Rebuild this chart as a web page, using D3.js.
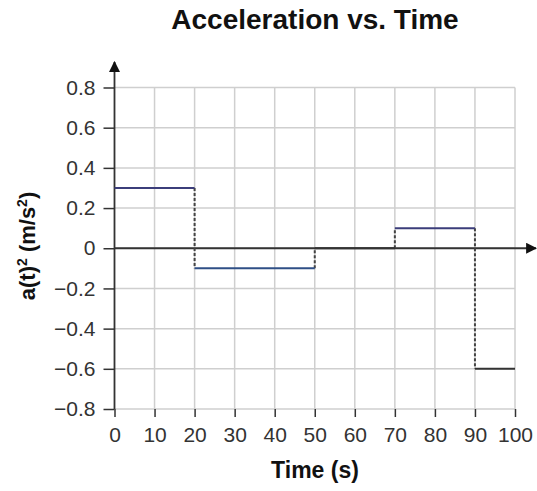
<!DOCTYPE html>
<html>
<head>
<meta charset="utf-8">
<style>
body { margin: 0; background: #fff; }
svg { display: block; font-family: "Liberation Sans", Arial, sans-serif; }
.grid line { stroke: #cfcfcf; stroke-width: 1.5; }
.tick text { fill: #333; }
</style>
</head>
<body>
<svg width="537" height="491"></svg>
<script src="https://d3js.org/d3.v7.min.js"></script>
<script>

// step boundaries (s) and acceleration on each step (m/s^2)
var stepStart = [0, 20, 50, 70, 90];
var stepEnd = [20, 50, 70, 90, 100];
var accel = [0.3, -0.1, 0, 0.1, -0.6];
var segColor = ["#3b3d7a", "#2f4f86", "#333333", "#3b3d7a", "#333333"];

var xTicks = [0, 10, 20, 30, 40, 50, 60, 70, 80, 90, 100];
var yTicks = [-0.8, -0.6, -0.4, -0.2, 0, 0.2, 0.4, 0.6, 0.8];

var svg = d3.select("svg");

var x = d3.scaleLinear().domain([0, 100]).range([114.5, 515]);
var y = d3.scaleLinear().domain([-0.8, 0.8]).range([409, 87.5]);

var fmtY = function(d) { return d === 0 ? "0" : d3.format(".1f")(d); };

// grid
var grid = svg.append("g").attr("class", "grid");
grid.selectAll(".v").data(xTicks.slice(1)).enter().append("line")
    .attr("x1", x).attr("x2", x)
    .attr("y1", y(0.8)).attr("y2", y(-0.8));
grid.selectAll(".h").data(yTicks).enter().append("line")
    .attr("x1", x(0)).attr("x2", x(100))
    .attr("y1", y).attr("y2", y);

// axes (ticks + labels)
var xAxis = svg.append("g")
    .attr("transform", "translate(0," + y(-0.8) + ")")
    .call(d3.axisBottom(x).tickValues(xTicks).tickSize(8).tickPadding(10).tickFormat(d3.format("d")));
xAxis.select(".domain").remove();
xAxis.selectAll(".tick line").attr("stroke", "#333").attr("stroke-width", 1.5);
xAxis.selectAll(".tick text").style("font-size", "21px");

var yAxis = svg.append("g")
    .attr("transform", "translate(" + x(0) + ",0)")
    .call(d3.axisLeft(y).tickValues(yTicks).tickSize(11).tickPadding(8).tickFormat(fmtY));
yAxis.select(".domain").remove();
yAxis.selectAll(".tick line").attr("stroke", "#333").attr("stroke-width", 1.5);
yAxis.selectAll(".tick text").style("font-size", "21px");

// arrow marker
svg.append("defs").append("marker")
    .attr("id", "arrow")
    .attr("viewBox", "0 0 10 10")
    .attr("refX", 9).attr("refY", 5)
    .attr("markerWidth", 11).attr("markerHeight", 11)
    .attr("markerUnits", "userSpaceOnUse")
    .attr("orient", "auto")
  .append("path")
    .attr("d", "M0,0L10,5L0,10Z")
    .attr("fill", "#111");

// main axis lines
svg.append("line")
    .attr("x1", x(0)).attr("x2", 536)
    .attr("y1", y(0)).attr("y2", y(0))
    .attr("stroke", "#333").attr("stroke-width", 1.8)
    .attr("marker-end", "url(#arrow)");
svg.append("line")
    .attr("x1", x(0)).attr("x2", x(0))
    .attr("y1", y(-0.8)).attr("y2", 62)
    .attr("stroke", "#333").attr("stroke-width", 1.8)
    .attr("marker-end", "url(#arrow)");

// dashed connectors between steps
var jumps = d3.range(1, accel.length);
svg.selectAll(".jump").data(jumps).enter().append("line")
    .attr("x1", function(i) { return x(stepStart[i]); })
    .attr("x2", function(i) { return x(stepStart[i]); })
    .attr("y1", function(i) { return y(accel[i - 1]); })
    .attr("y2", function(i) { return y(accel[i]); })
    .attr("stroke", "#444").attr("stroke-width", 2)
    .attr("stroke-dasharray", "3,2");

// step segments
svg.selectAll(".seg").data(accel).enter().append("line")
    .attr("x1", function(d, i) { return x(stepStart[i]); })
    .attr("x2", function(d, i) { return x(stepEnd[i]); })
    .attr("y1", y).attr("y2", y)
    .attr("stroke", function(d, i) { return segColor[i]; })
    .attr("stroke-width", 2);

// titles
svg.append("text")
    .attr("x", 315).attr("y", 29)
    .attr("text-anchor", "middle")
    .style("font-size", "28px").style("font-weight", "bold").style("fill", "#111")
    .text("Acceleration vs. Time");

svg.append("text")
    .attr("x", 315).attr("y", 478)
    .attr("text-anchor", "middle")
    .style("font-size", "23px").style("font-weight", "bold").style("fill", "#111")
    .text("Time (s)");

var yl = svg.append("text")
    .attr("transform", "translate(35,246) rotate(-90)")
    .attr("text-anchor", "middle")
    .style("font-size", "22px").style("font-weight", "bold").style("fill", "#111");
yl.append("tspan").text("a(t)");
yl.append("tspan").attr("dy", -8).style("font-size", "14px").text("2");
yl.append("tspan").attr("dy", 8).text(" (m/s");
yl.append("tspan").attr("dy", -8).style("font-size", "14px").text("2");
yl.append("tspan").attr("dy", 8).text(")");

</script>
</body>
</html>
